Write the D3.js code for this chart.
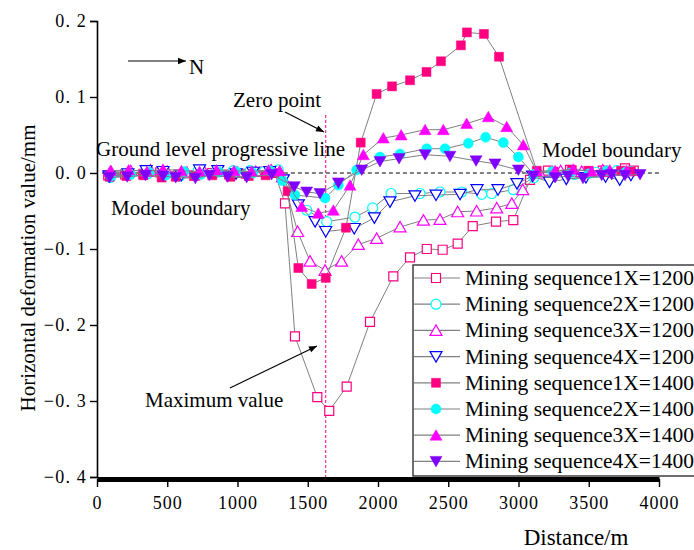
<!DOCTYPE html>
<html>
<head>
<meta charset="utf-8">
<script src="https://cdn.jsdelivr.net/npm/d3@7"></script>
<style>
  body { margin: 0; background: #fff; }
  text { font-family: "Liberation Serif", "Times New Roman", serif; fill: #000; }
</style>
</head>
<body>
<svg id="chart" width="694" height="550"></svg>
<script>
// distance (m), horizontal deformation (mm)
const seq1X1200 = [[80,-0.003],[200,-0.002],[330,-0.001],[450,0.001],[580,-0.002],[700,-0.003],[820,0.000],[940,-0.002],[1060,-0.001],[1190,0.002],[1265,0.000],
  [1338,-0.040],[1409,-0.215],[1568,-0.295],[1653,-0.313],[1777,-0.281],[1943,-0.196],[2109,-0.136],[2228,-0.111],[2347,-0.100],[2460,-0.101],[2567,-0.093],
  [2674,-0.070],[2840,-0.064],[2963,-0.062],[3082,-0.009],[3210,0.003],[3367,0.004],[3480,0.002],[3600,0.003],[3758,0.006],[3820,0.003]];
const seq2X1200 = [[95,-0.006],[230,0.001],[360,-0.001],[480,0.002],[590,-0.004],[720,0.003],[850,0.002],[970,0.003],[1090,0.003],[1190,0.002],[1290,0.004],
  [1493,-0.049],[1635,-0.064],[1836,-0.058],[1962,-0.046],[2093,-0.027],[2299,-0.027],[2441,-0.025],[2596,-0.025],[2738,-0.028],[2809,-0.027],[2963,-0.022],
  [3110,-0.006],[3250,-0.003],[3400,-0.002],[3550,0.001],[3700,0.003],[3800,0.002]];
const seq3X1200 = [[100,0.002],[240,0.003],[380,0.004],[500,0.002],[640,0.001],[760,0.003],[880,0.002],[1000,0.001],[1130,0.002],[1240,0.004],[1320,-0.005],
  [1428,-0.077],[1516,-0.116],[1623,-0.128],[1741,-0.116],[1860,-0.094],[1990,-0.086],[2157,-0.071],[2323,-0.062],[2441,-0.061],[2567,-0.051],[2702,-0.050],
  [2845,-0.046],[2952,-0.040],[3030,-0.022],[3150,0.000],[3300,0.003],[3450,0.002],[3600,0.004],[3750,0.001]];
const seq4X1200 = [[85,-0.004],[220,-0.001],[350,0.003],[470,0.002],[600,-0.003],[730,0.004],[860,0.003],[990,-0.001],[1110,0.001],[1230,0.002],[1326,-0.009],
  [1433,-0.042],[1552,-0.064],[1628,-0.077],[1831,-0.073],[1974,-0.059],[2085,-0.038],[2263,-0.030],[2413,-0.029],[2584,-0.028],[2705,-0.022],[2854,-0.022],
  [2989,-0.014],[3100,-0.004],[3220,-0.012],[3340,-0.008],[3480,-0.006],[3620,-0.005],[3720,-0.009],[3800,-0.003]];
const seq1X1400 = [[90,-0.005],[210,-0.004],[330,-0.003],[460,-0.006],[560,-0.005],[690,-0.004],[820,-0.003],[950,-0.005],[1080,-0.004],[1200,-0.003],[1280,0.000],
  [1357,-0.024],[1433,-0.125],[1528,-0.146],[1628,-0.138],[1772,-0.072],[1877,0.040],[1990,0.104],[2100,0.114],[2228,0.122],[2345,0.133],[2448,0.147],
  [2590,0.168],[2633,0.185],[2754,0.183],[2861,0.153],[3130,0.003],[3250,0.002],[3380,0.004],[3500,0.003],[3620,0.001],[3730,0.003],[3800,0.002]];
const seq2X1400 = [[100,-0.004],[240,-0.002],[370,0.001],[490,-0.003],[620,0.002],[740,-0.002],[870,0.001],[990,0.002],[1110,0.000],[1230,0.003],[1320,-0.010],
  [1409,-0.029],[1623,-0.033],[1718,-0.016],[1848,0.004],[2014,0.021],[2157,0.025],[2347,0.032],[2477,0.032],[2643,0.039],[2766,0.047],[2892,0.040],
  [2999,0.021],[3110,-0.002],[3240,0.002],[3370,0.000],[3500,-0.001],[3630,0.003],[3760,0.001]];
const seq3X1400 = [[95,0.003],[225,0.004],[355,0.002],[470,0.005],[600,0.003],[730,0.002],[850,0.004],[975,0.003],[1100,0.002],[1220,0.004],[1300,0.003],
  [1457,-0.044],[1575,-0.053],[1682,-0.049],[1801,-0.016],[1896,0.024],[2038,0.046],[2165,0.050],[2335,0.057],[2465,0.057],[2631,0.065],[2785,0.074],
  [2916,0.061],[3034,0.037],[3130,0.002],[3260,0.003],[3390,0.005],[3520,0.002],[3650,0.004],[3770,0.003]];
const seq4X1400 = [[90,-0.006],[215,-0.005],[345,-0.003],[470,-0.004],[560,-0.006],[700,-0.007],[800,-0.003],[930,-0.005],[1065,-0.006],[1243,-0.002],
  [1404,-0.018],[1492,-0.025],[1587,-0.027],[1718,-0.013],[1884,0.004],[2014,0.015],[2150,0.019],[2335,0.024],[2512,0.022],[2698,0.016],[2833,0.012],
  [2999,0.004],[3106,-0.004],[3260,-0.006],[3352,-0.004],[3459,-0.007],[3592,-0.003],[3663,-0.002],[3758,-0.003],[3865,-0.002]];

const seriesNames = ["Mining sequence1X=1200", "Mining sequence2X=1200", "Mining sequence3X=1200", "Mining sequence4X=1200",
  "Mining sequence1X=1400", "Mining sequence2X=1400", "Mining sequence3X=1400", "Mining sequence4X=1400"];
const seriesValues = [seq1X1200, seq2X1200, seq3X1200, seq4X1200, seq1X1400, seq2X1400, seq3X1400, seq4X1400];
const xTicks = [0, 500, 1000, 1500, 2000, 2500, 3000, 3500, 4000];
const yTicks = [-0.4, -0.3, -0.2, -0.1, 0, 0.1, 0.2];
const zeroPoint = 1628;

// styles
const shapes = ["square", "circle", "up", "down", "square", "circle", "up", "down"];
const colors = ["#ff0080", "#00ffff", "#ff00ff", "#0000ff", "#ff0080", "#00ffff", "#ff00ff", "#8000ff"];
const filled = [false, false, false, false, true, true, true, true];

const svg = d3.select("#chart");
const x = d3.scaleLinear().domain([0, 4000]).range([97, 659]);
const y = d3.scaleLinear().domain([-0.4, 0.2]).range([477, 21]);

function markerPath(shape) {
    if (shape === "square") return "M-4.5,-4.5H4.5V4.5H-4.5Z";
    if (shape === "circle") return "M5,0A5,5 0 1,1 -5,0A5,5 0 1,1 5,0Z";
    if (shape === "up") return "M0,-5.5L6,5L-6,5Z";
    return "M0,5.5L6,-5L-6,-5Z";
}

const defs = svg.append("defs");
defs.append("marker").attr("id", "head")
    .attr("viewBox", "0 0 10 10").attr("refX", 10).attr("refY", 5)
    .attr("markerWidth", 10).attr("markerHeight", 8).attr("markerUnits", "userSpaceOnUse")
    .attr("orient", "auto")
    .append("path").attr("d", "M0,1L10,5L0,9Z").attr("fill", "#000");

// reference lines
svg.append("line")
    .attr("x1", x(35)).attr("x2", x(4010)).attr("y1", y(0)).attr("y2", y(0))
    .attr("stroke", "#000").attr("stroke-width", 1).attr("stroke-dasharray", "4,3");
svg.append("line")
    .attr("x1", x(zeroPoint)).attr("x2", x(zeroPoint)).attr("y1", 115).attr("y2", y(-0.4))
    .attr("stroke", "#ff0080").attr("stroke-width", 1).attr("stroke-dasharray", "3,2");

// series
const line = d3.line().x(d => x(d[0])).y(d => y(d[1]));
seriesValues.forEach((data, i) => {
    const g = svg.append("g");
    g.append("path").attr("d", line(data))
        .attr("fill", "none").attr("stroke", "#808080").attr("stroke-width", 1);
    g.selectAll("path.pt").data(data).join("path")
        .attr("class", "pt")
        .attr("transform", d => `translate(${x(d[0])},${y(d[1])})`)
        .attr("d", markerPath(shapes[i]))
        .attr("fill", filled[i] ? colors[i] : "#fff")
        .attr("stroke", colors[i])
        .attr("stroke-width", filled[i] ? 0.5 : 1.2);
});

// axes
const fmt = d => d === 0 ? "0. 0" : (d < 0 ? "\u22120. " : "0. ") + Math.round(Math.abs(d) * 10);
const yAxis = svg.append("g").attr("transform", "translate(97,0)")
    .call(d3.axisLeft(y).tickValues(yTicks).tickSize(7).tickPadding(3).tickFormat(fmt));
yAxis.select(".domain").attr("stroke-width", 1.6);
yAxis.selectAll(".tick line").attr("stroke-width", 1.4);
yAxis.selectAll("text").attr("font-size", 18).attr("letter-spacing", 1.2);

const xAxis = svg.append("g").attr("transform", "translate(0,479)")
    .call(d3.axisBottom(x).tickValues(xTicks).tickSize(8).tickSizeOuter(0).tickPadding(9)
        .tickFormat(d3.format("d")));
xAxis.select(".domain").attr("stroke-width", 5);
xAxis.selectAll(".tick line").attr("stroke-width", 1.4);
xAxis.selectAll("text").attr("font-size", 18).attr("letter-spacing", 1);

svg.append("text").attr("transform", "translate(35,268) rotate(-90)")
    .attr("text-anchor", "middle").attr("font-size", 21)
    .text("Horizontal deformation value/mm");
svg.append("text").attr("x", 576).attr("y", 545)
    .attr("text-anchor", "middle").attr("font-size", 23).text("Distance/m");

// annotations
const ann = [
    ["N", 189, 74],
    ["Zero point", 233, 107],
    ["Ground level progressive line", 96, 156],
    ["Model boundary", 111, 215],
    ["Model boundary", 542, 157],
    ["Maximum value", 145, 407]
];
ann.forEach(a => svg.append("text").attr("x", a[1]).attr("y", a[2]).attr("font-size", 21).text(a[0]));

const arrows = [[128, 61, 186, 61], [285, 112, 324, 132], [230, 388, 317, 346]];
arrows.forEach(a => svg.append("line")
    .attr("x1", a[0]).attr("y1", a[1]).attr("x2", a[2]).attr("y2", a[3])
    .attr("stroke", "#000").attr("stroke-width", 1.2).attr("marker-end", "url(#head)"));

// legend
const legend = svg.append("g");
legend.append("rect").attr("x", 413).attr("y", 265).attr("width", 300).attr("height", 211)
    .attr("fill", "#fff").attr("stroke", "#333").attr("stroke-width", 1.4);
seriesNames.forEach((name, i) => {
    const ly = 278 + i * 26.2;
    legend.append("line").attr("x1", 414).attr("x2", 460).attr("y1", ly).attr("y2", ly)
        .attr("stroke", "#808080").attr("stroke-width", 1.2);
    legend.append("path").attr("transform", `translate(436,${ly})`)
        .attr("d", markerPath(shapes[i]))
        .attr("fill", filled[i] ? colors[i] : "#fff")
        .attr("stroke", colors[i]).attr("stroke-width", filled[i] ? 0.5 : 1.2);
    legend.append("text").attr("x", 465).attr("y", ly + 7).attr("font-size", 21.5).text(name);
});
</script>
</body>
</html>
